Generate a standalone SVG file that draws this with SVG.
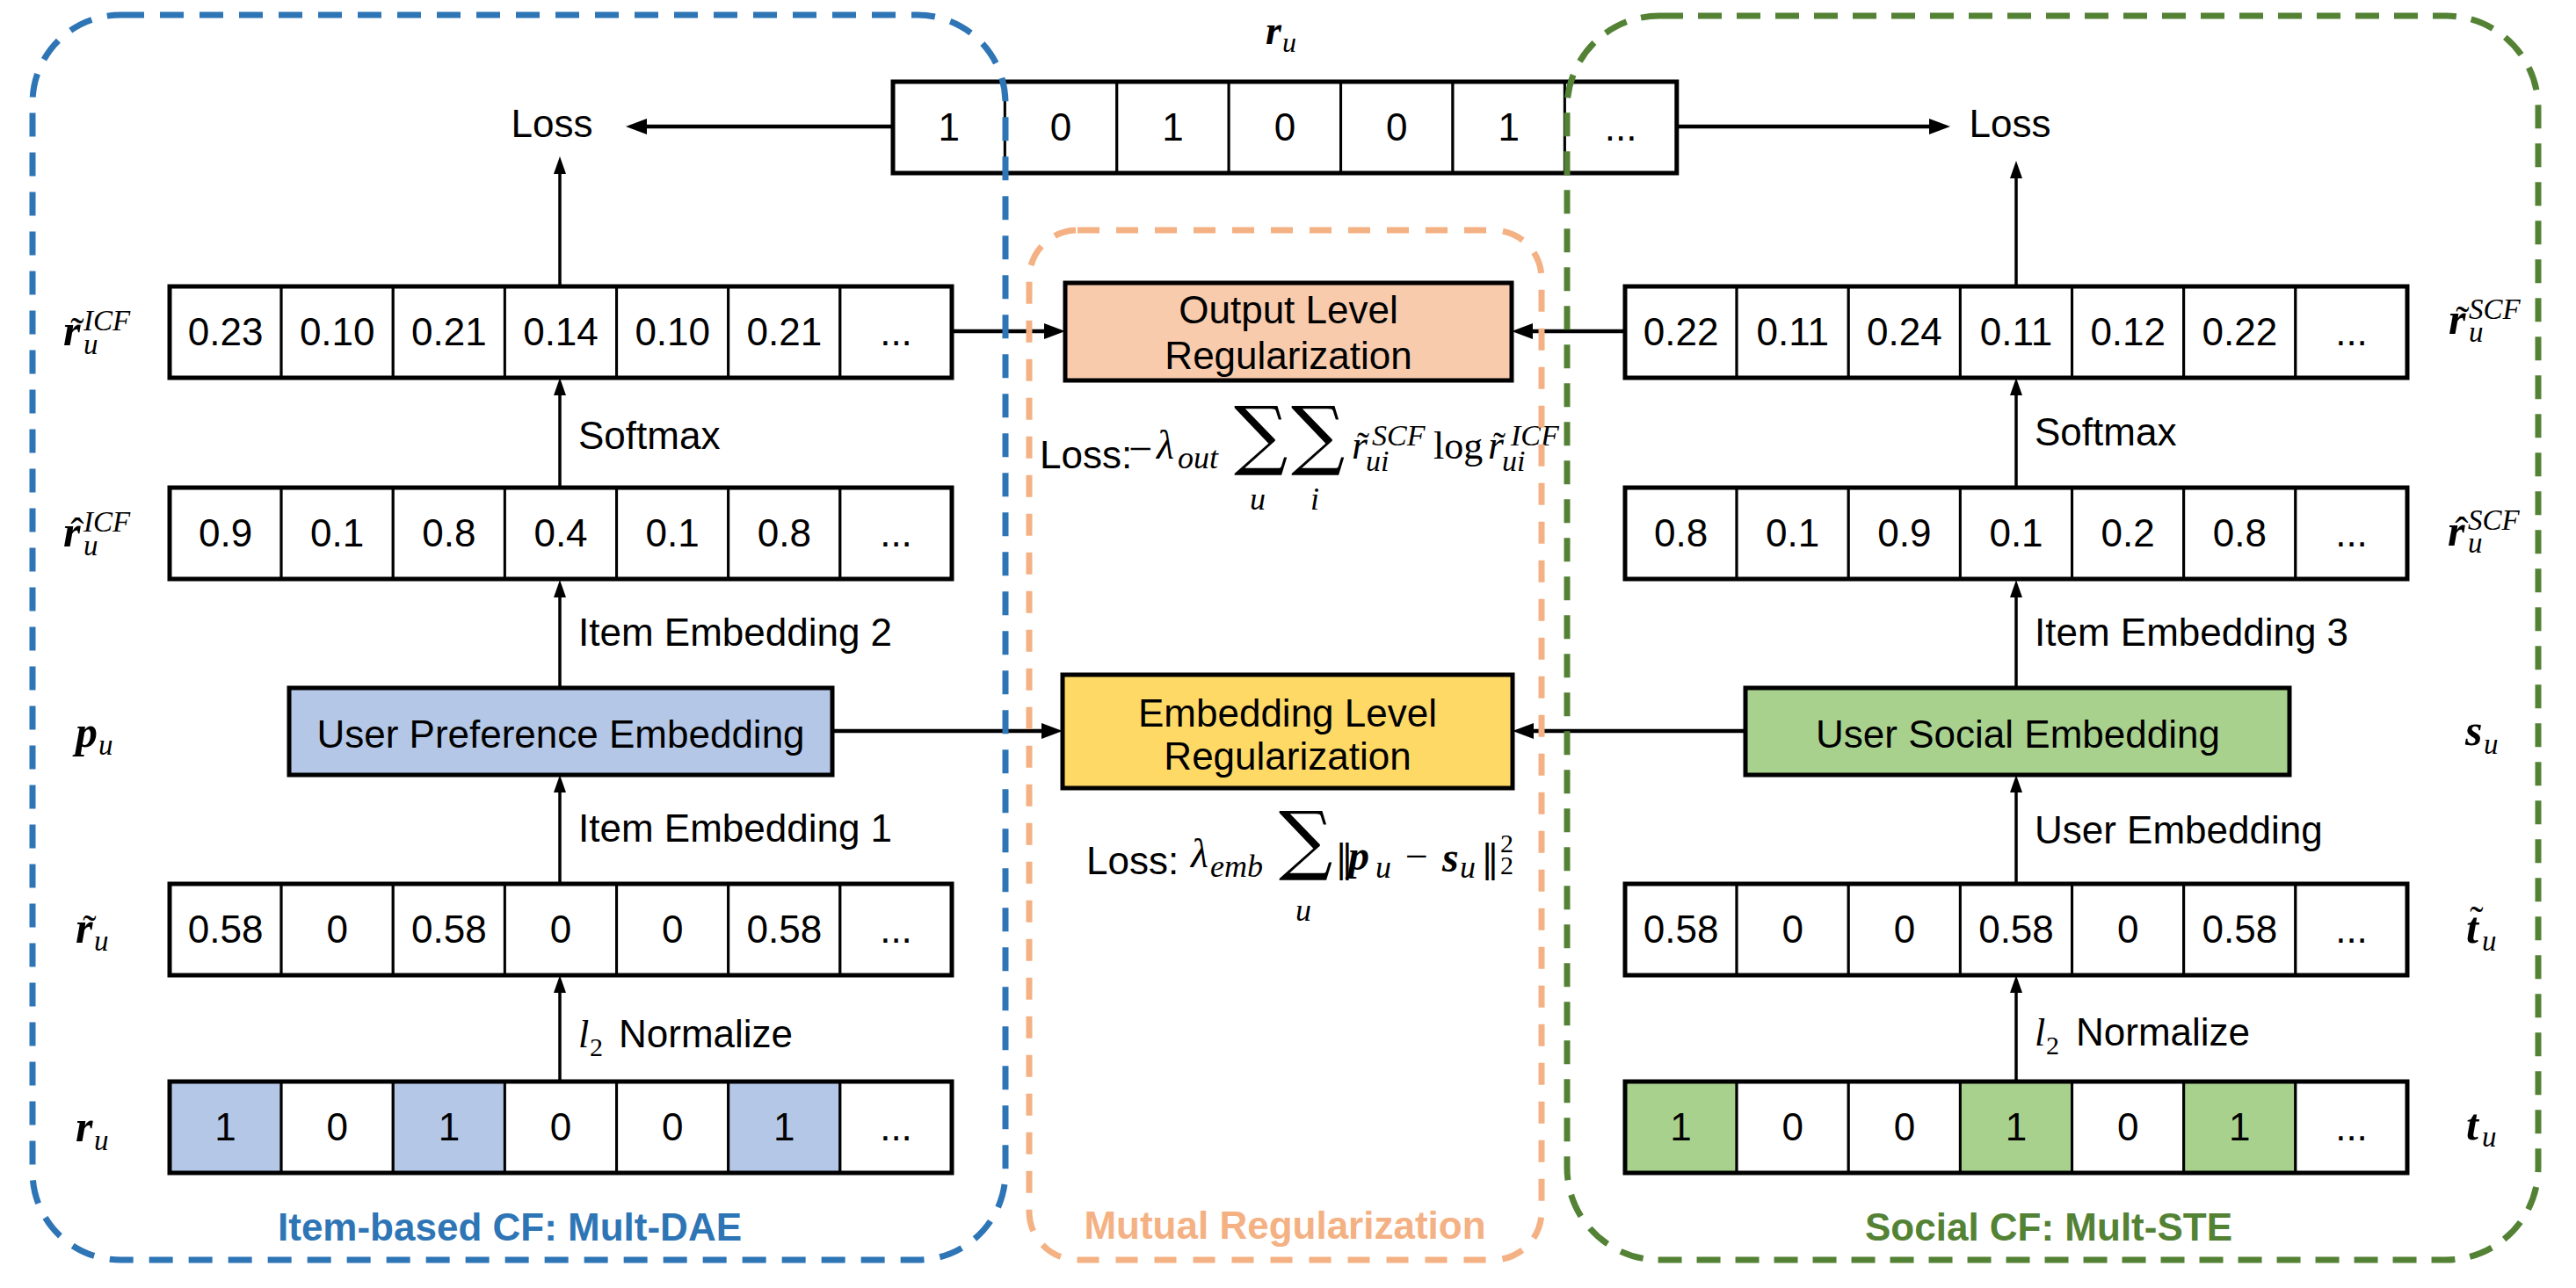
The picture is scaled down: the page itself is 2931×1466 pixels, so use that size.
<svg xmlns="http://www.w3.org/2000/svg" width="2931" height="1466" viewBox="0 0 2931 1466">
<style>
.t{font-family:"Liberation Sans",Arial,sans-serif;font-size:44px;fill:#000}
.c{text-anchor:middle}
.m{font-family:"Liberation Serif","Times New Roman",serif;font-style:italic;fill:#000}
.mb{font-family:"Liberation Serif","Times New Roman",serif;font-style:italic;font-weight:bold;fill:#000}
.up{font-family:"Liberation Serif","Times New Roman",serif;fill:#000}
.dj{font-family:"DejaVu Serif",serif;fill:#000}
.cell{fill:#fff;stroke:#000;stroke-width:3}
.outer{fill:none;stroke:#000;stroke-width:5}
.node{stroke:#000;stroke-width:5}
.thick{stroke:#000;stroke-width:4.5;fill:none}
.thin{stroke:#000;stroke-width:3.5;fill:none}
.box{fill:none;stroke-width:7}
.title{font-family:"Liberation Sans",Arial,sans-serif;font-size:44px;font-weight:bold;text-anchor:middle}
</style>
<defs>
<marker id="ah" markerUnits="userSpaceOnUse" markerWidth="24" markerHeight="18" refX="0" refY="9" orient="auto"><path d="M0,0 L24,9 L0,18 z" fill="#000"/></marker>
<marker id="as" markerUnits="userSpaceOnUse" markerWidth="20" markerHeight="14" refX="0" refY="7" orient="auto"><path d="M0,0 L20,7 L0,14 z" fill="#000"/></marker>
</defs>
<rect width="2931" height="1466" fill="#fff"/>

<!-- top r_u row -->
<g id="row-top">
<rect class="cell" x="1016" y="93" width="127.4" height="104"/>
<rect class="cell" x="1143.4" y="93" width="127.4" height="104"/>
<rect class="cell" x="1270.8" y="93" width="127.4" height="104"/>
<rect class="cell" x="1398.2" y="93" width="127.4" height="104"/>
<rect class="cell" x="1525.6" y="93" width="127.4" height="104"/>
<rect class="cell" x="1653" y="93" width="127.4" height="104"/>
<rect class="cell" x="1780.4" y="93" width="127.4" height="104"/>
<rect class="outer" x="1016" y="93" width="891.8" height="104"/>
<g class="t c">
<text x="1079.7" y="160">1</text><text x="1207.1" y="160">0</text><text x="1334.5" y="160">1</text><text x="1461.9" y="160">0</text><text x="1589.3" y="160">0</text><text x="1716.7" y="160">1</text><text x="1844.1" y="160">...</text>
</g>
<text class="mb" x="1440" y="50" font-size="46">r</text><text class="m" x="1459" y="59" font-size="32">u</text>
</g>

<!-- left rows -->
<g id="row-rtilde-icf">
<rect class="cell" x="193" y="326" width="127.1" height="104"/><rect class="cell" x="320.1" y="326" width="127.1" height="104"/><rect class="cell" x="447.3" y="326" width="127.1" height="104"/><rect class="cell" x="574.4" y="326" width="127.1" height="104"/><rect class="cell" x="701.6" y="326" width="127.1" height="104"/><rect class="cell" x="828.7" y="326" width="127.1" height="104"/><rect class="cell" x="955.9" y="326" width="127.1" height="104"/>
<rect class="outer" x="193" y="326" width="890" height="104"/>
<g class="t c"><text x="256.6" y="393">0.23</text><text x="383.7" y="393">0.10</text><text x="510.9" y="393">0.21</text><text x="638" y="393">0.14</text><text x="765.2" y="393">0.10</text><text x="892.3" y="393">0.21</text><text x="1019.5" y="393">...</text></g>
<text class="mb" x="72" y="393" font-size="50">r</text><text class="up c" x="88" y="393" font-size="46">˜</text><text class="m" x="95" y="376" font-size="33">ICF</text><text class="m" x="95" y="403" font-size="33">u</text>
</g>
<g id="row-rhat-icf">
<rect class="cell" x="193" y="555" width="127.1" height="104"/><rect class="cell" x="320.1" y="555" width="127.1" height="104"/><rect class="cell" x="447.3" y="555" width="127.1" height="104"/><rect class="cell" x="574.4" y="555" width="127.1" height="104"/><rect class="cell" x="701.6" y="555" width="127.1" height="104"/><rect class="cell" x="828.7" y="555" width="127.1" height="104"/><rect class="cell" x="955.9" y="555" width="127.1" height="104"/>
<rect class="outer" x="193" y="555" width="890" height="104"/>
<g class="t c"><text x="256.6" y="622">0.9</text><text x="383.7" y="622">0.1</text><text x="510.9" y="622">0.8</text><text x="638" y="622">0.4</text><text x="765.2" y="622">0.1</text><text x="892.3" y="622">0.8</text><text x="1019.5" y="622">...</text></g>
<text class="mb" x="72" y="622" font-size="50">r</text><text class="up c" x="88" y="622" font-size="46">ˆ</text><text class="m" x="95" y="605" font-size="33">ICF</text><text class="m" x="95" y="632" font-size="33">u</text>
</g>
<g id="row-rtilde-u">
<rect class="cell" x="193" y="1006" width="127.1" height="104"/><rect class="cell" x="320.1" y="1006" width="127.1" height="104"/><rect class="cell" x="447.3" y="1006" width="127.1" height="104"/><rect class="cell" x="574.4" y="1006" width="127.1" height="104"/><rect class="cell" x="701.6" y="1006" width="127.1" height="104"/><rect class="cell" x="828.7" y="1006" width="127.1" height="104"/><rect class="cell" x="955.9" y="1006" width="127.1" height="104"/>
<rect class="outer" x="193" y="1006" width="890" height="104"/>
<g class="t c"><text x="256.6" y="1073">0.58</text><text x="383.7" y="1073">0</text><text x="510.9" y="1073">0.58</text><text x="638" y="1073">0</text><text x="765.2" y="1073">0</text><text x="892.3" y="1073">0.58</text><text x="1019.5" y="1073">...</text></g>
<text class="mb" x="86" y="1073" font-size="50">r</text><text class="up c" x="102" y="1073" font-size="46">˜</text><text class="m" x="107" y="1082" font-size="33">u</text>
</g>
<g id="row-r-u">
<rect class="cell" x="193" y="1231" width="127.1" height="104" style="fill:#B4C7E7"/><rect class="cell" x="320.1" y="1231" width="127.1" height="104"/><rect class="cell" x="447.3" y="1231" width="127.1" height="104" style="fill:#B4C7E7"/><rect class="cell" x="574.4" y="1231" width="127.1" height="104"/><rect class="cell" x="701.6" y="1231" width="127.1" height="104"/><rect class="cell" x="828.7" y="1231" width="127.1" height="104" style="fill:#B4C7E7"/><rect class="cell" x="955.9" y="1231" width="127.1" height="104"/>
<rect class="outer" x="193" y="1231" width="890" height="104"/>
<g class="t c"><text x="256.6" y="1298">1</text><text x="383.7" y="1298">0</text><text x="510.9" y="1298">1</text><text x="638" y="1298">0</text><text x="765.2" y="1298">0</text><text x="892.3" y="1298">1</text><text x="1019.5" y="1298">...</text></g>
<text class="mb" x="86" y="1299" font-size="50">r</text><text class="m" x="107" y="1309" font-size="33">u</text>
</g>

<!-- right rows -->
<g id="row-rtilde-scf">
<rect class="cell" x="1849" y="326" width="127.1" height="104"/><rect class="cell" x="1976.1" y="326" width="127.1" height="104"/><rect class="cell" x="2103.3" y="326" width="127.1" height="104"/><rect class="cell" x="2230.4" y="326" width="127.1" height="104"/><rect class="cell" x="2357.6" y="326" width="127.1" height="104"/><rect class="cell" x="2484.7" y="326" width="127.1" height="104"/><rect class="cell" x="2611.9" y="326" width="127.1" height="104"/>
<rect class="outer" x="1849" y="326" width="890" height="104"/>
<g class="t c"><text x="1912.6" y="393">0.22</text><text x="2039.7" y="393">0.11</text><text x="2166.9" y="393">0.24</text><text x="2294" y="393">0.11</text><text x="2421.2" y="393">0.12</text><text x="2548.3" y="393">0.22</text><text x="2675.5" y="393">...</text></g>
<text class="mb" x="2786" y="380" font-size="50">r</text><text class="up c" x="2802" y="380" font-size="46">˜</text><text class="m" x="2809" y="363" font-size="33">SCF</text><text class="m" x="2809" y="389" font-size="33">u</text>
</g>
<g id="row-rhat-scf">
<rect class="cell" x="1849" y="555" width="127.1" height="104"/><rect class="cell" x="1976.1" y="555" width="127.1" height="104"/><rect class="cell" x="2103.3" y="555" width="127.1" height="104"/><rect class="cell" x="2230.4" y="555" width="127.1" height="104"/><rect class="cell" x="2357.6" y="555" width="127.1" height="104"/><rect class="cell" x="2484.7" y="555" width="127.1" height="104"/><rect class="cell" x="2611.9" y="555" width="127.1" height="104"/>
<rect class="outer" x="1849" y="555" width="890" height="104"/>
<g class="t c"><text x="1912.6" y="622">0.8</text><text x="2039.7" y="622">0.1</text><text x="2166.9" y="622">0.9</text><text x="2294" y="622">0.1</text><text x="2421.2" y="622">0.2</text><text x="2548.3" y="622">0.8</text><text x="2675.5" y="622">...</text></g>
<text class="mb" x="2785" y="621" font-size="50">r</text><text class="up c" x="2801" y="621" font-size="46">ˆ</text><text class="m" x="2808" y="603" font-size="33">SCF</text><text class="m" x="2808" y="629" font-size="33">u</text>
</g>
<g id="row-ttilde-u">
<rect class="cell" x="1849" y="1006" width="127.1" height="104"/><rect class="cell" x="1976.1" y="1006" width="127.1" height="104"/><rect class="cell" x="2103.3" y="1006" width="127.1" height="104"/><rect class="cell" x="2230.4" y="1006" width="127.1" height="104"/><rect class="cell" x="2357.6" y="1006" width="127.1" height="104"/><rect class="cell" x="2484.7" y="1006" width="127.1" height="104"/><rect class="cell" x="2611.9" y="1006" width="127.1" height="104"/>
<rect class="outer" x="1849" y="1006" width="890" height="104"/>
<g class="t c"><text x="1912.6" y="1073">0.58</text><text x="2039.7" y="1073">0</text><text x="2166.9" y="1073">0</text><text x="2294" y="1073">0.58</text><text x="2421.2" y="1073">0</text><text x="2548.3" y="1073">0.58</text><text x="2675.5" y="1073">...</text></g>
<text class="mb" x="2806" y="1073" font-size="50">t</text><text class="up c" x="2818" y="1063" font-size="46">˜</text><text class="m" x="2824" y="1082" font-size="33">u</text>
</g>
<g id="row-t-u">
<rect class="cell" x="1849" y="1231" width="127.1" height="104" style="fill:#A9D18E"/><rect class="cell" x="1976.1" y="1231" width="127.1" height="104"/><rect class="cell" x="2103.3" y="1231" width="127.1" height="104"/><rect class="cell" x="2230.4" y="1231" width="127.1" height="104" style="fill:#A9D18E"/><rect class="cell" x="2357.6" y="1231" width="127.1" height="104"/><rect class="cell" x="2484.7" y="1231" width="127.1" height="104" style="fill:#A9D18E"/><rect class="cell" x="2611.9" y="1231" width="127.1" height="104"/>
<rect class="outer" x="1849" y="1231" width="890" height="104"/>
<g class="t c"><text x="1912.6" y="1298">1</text><text x="2039.7" y="1298">0</text><text x="2166.9" y="1298">0</text><text x="2294" y="1298">1</text><text x="2421.2" y="1298">0</text><text x="2548.3" y="1298">1</text><text x="2675.5" y="1298">...</text></g>
<text class="mb" x="2806" y="1297" font-size="50">t</text><text class="m" x="2824" y="1305" font-size="33">u</text>
</g>

<!-- embedding nodes -->
<g id="node-user-pref">
<rect class="node" x="329" y="783" width="618" height="99" fill="#B4C7E7"/>
<text class="t c" x="638" y="851">User Preference Embedding</text>
<text class="mb" x="86" y="850" font-size="50">p</text><text class="m" x="112" y="859" font-size="33">u</text>
</g>
<g id="node-user-social">
<rect class="node" x="1986" y="783" width="619" height="99" fill="#A9D18E"/>
<text class="t c" x="2296" y="851">User Social Embedding</text>
<text class="mb" x="2805" y="848" font-size="50">s</text><text class="m" x="2826" y="858" font-size="33">u</text>
</g>
<g id="node-output-reg">
<rect class="node" x="1212" y="322" width="508" height="111" fill="#F8CBAD"/>
<text class="t c" x="1466" y="368">Output Level</text>
<text class="t c" x="1466" y="420">Regularization</text>
</g>
<g id="node-emb-reg">
<rect class="node" x="1209" y="768" width="512" height="129" fill="#FFD966"/>
<text class="t c" x="1465" y="827">Embedding Level</text>
<text class="t c" x="1465" y="876">Regularization</text>
</g>

<!-- loss labels -->
<g id="loss-left"><text class="t c" x="628" y="156">Loss</text></g>
<g id="loss-right"><text class="t c" x="2287" y="156">Loss</text></g>

<!-- formulas -->
<g id="formula-out">
<text class="t" x="1183" y="533">Loss:</text>
<text class="up" x="1284" y="527" font-size="48">−</text>
<text class="m" x="1316" y="522" font-size="46">λ</text>
<text class="m" x="1340" y="533" font-size="36">out</text>
<text class="dj" x="1404" y="524" font-size="86">∑</text>
<text class="dj" x="1469" y="524" font-size="86">∑</text>
<text class="m c" x="1431" y="580" font-size="36">u</text>
<text class="m c" x="1496" y="580" font-size="36">i</text>
<text class="m" x="1538" y="522" font-size="46">r</text><text class="up c" x="1551" y="521" font-size="42">˜</text>
<text class="m" x="1554" y="536" font-size="34">ui</text><text class="m" x="1561" y="507" font-size="34">SCF</text>
<text class="up" x="1631" y="522" font-size="44">log</text>
<text class="m" x="1693" y="522" font-size="46">r</text><text class="up c" x="1706" y="521" font-size="42">˜</text>
<text class="m" x="1709" y="536" font-size="34">ui</text><text class="m" x="1719" y="507" font-size="34">ICF</text>
</g>
<g id="formula-emb">
<text class="t" x="1236" y="995">Loss:</text>
<text class="m" x="1355" y="987" font-size="46">λ</text>
<text class="m" x="1377" y="998" font-size="36">emb</text>
<text class="dj" x="1455" y="985" font-size="86">∑</text>
<text class="m c" x="1483" y="1048" font-size="36">u</text>
<text class="dj" x="1519" y="992" font-size="42">‖</text>
<text class="mb" x="1534" y="990" font-size="48">p</text>
<text class="m" x="1565" y="999" font-size="36">u</text>
<text class="up" x="1599" y="990" font-size="46">−</text>
<text class="mb" x="1641" y="992" font-size="48">s</text>
<text class="m" x="1661" y="999" font-size="36">u</text>
<text class="dj" x="1685" y="992" font-size="42">‖</text>
<text class="up" x="1707" y="970" font-size="30">2</text>
<text class="up" x="1707" y="995" font-size="30">2</text>
</g>

<!-- edge labels -->
<g id="edge-labels">
<text class="t" x="658" y="511">Softmax</text>
<text class="t" x="2315" y="507">Softmax</text>
<text class="t" x="658" y="735">Item Embedding 2</text>
<text class="t" x="2315" y="735">Item Embedding 3</text>
<text class="t" x="658" y="958">Item Embedding 1</text>
<text class="t" x="2315" y="960">User Embedding</text>
<text class="m" x="658" y="1192" font-size="44">l</text><text class="up" x="671" y="1202" font-size="30">2</text><text class="t" x="704" y="1192">Normalize</text>
<text class="m" x="2315" y="1190" font-size="44">l</text><text class="up" x="2328" y="1200" font-size="30">2</text><text class="t" x="2362" y="1190">Normalize</text>
</g>

<!-- connectors -->
<g id="connectors">
<path class="thick" d="M1016,144 L736,144" marker-end="url(#ah)"/>
<path class="thick" d="M1908,144 L2195,144" marker-end="url(#ah)"/>
<path class="thick" d="M1083,377 L1188,377" marker-end="url(#ah)"/>
<path class="thick" d="M1849,377 L1744,377" marker-end="url(#ah)"/>
<path class="thick" d="M947,832 L1185,832" marker-end="url(#ah)"/>
<path class="thick" d="M1986,832 L1745,832" marker-end="url(#ah)"/>
<path class="thin" d="M637,326 L637,198" marker-end="url(#as)"/>
<path class="thin" d="M2294,326 L2294,203" marker-end="url(#as)"/>
<path class="thin" d="M637,555 L637,450" marker-end="url(#as)"/>
<path class="thin" d="M2294,555 L2294,450" marker-end="url(#as)"/>
<path class="thin" d="M637,783 L637,680" marker-end="url(#as)"/>
<path class="thin" d="M2294,783 L2294,680" marker-end="url(#as)"/>
<path class="thin" d="M637,1006 L637,902" marker-end="url(#as)"/>
<path class="thin" d="M2294,1006 L2294,902" marker-end="url(#as)"/>
<path class="thin" d="M637,1231 L637,1130" marker-end="url(#as)"/>
<path class="thin" d="M2294,1231 L2294,1130" marker-end="url(#as)"/>
</g>

<!-- group containers -->
<g id="group-item-cf">
<rect class="box" x="37" y="17" width="1107" height="1417" rx="100" ry="100" stroke="#2E75B6" stroke-dasharray="27 18"/>
<text class="title" x="580" y="1412" fill="#2E75B6">Item-based CF: Mult-DAE</text>
</g>
<g id="group-mutual">
<rect class="box" x="1171" y="262" width="583" height="1172" rx="55" ry="55" stroke="#F4B183" stroke-width="6.5" stroke-dasharray="25 19"/>
<text class="title" x="1462" y="1410" fill="#F4B183">Mutual Regularization</text>
</g>
<g id="group-social-cf">
<rect class="box" x="1783" y="18" width="1105" height="1416" rx="105" ry="105" stroke="#548235" stroke-dasharray="27 17"/>
<text class="title" x="2331" y="1412" fill="#548235">Social CF: Mult-STE</text>
</g>
</svg>
